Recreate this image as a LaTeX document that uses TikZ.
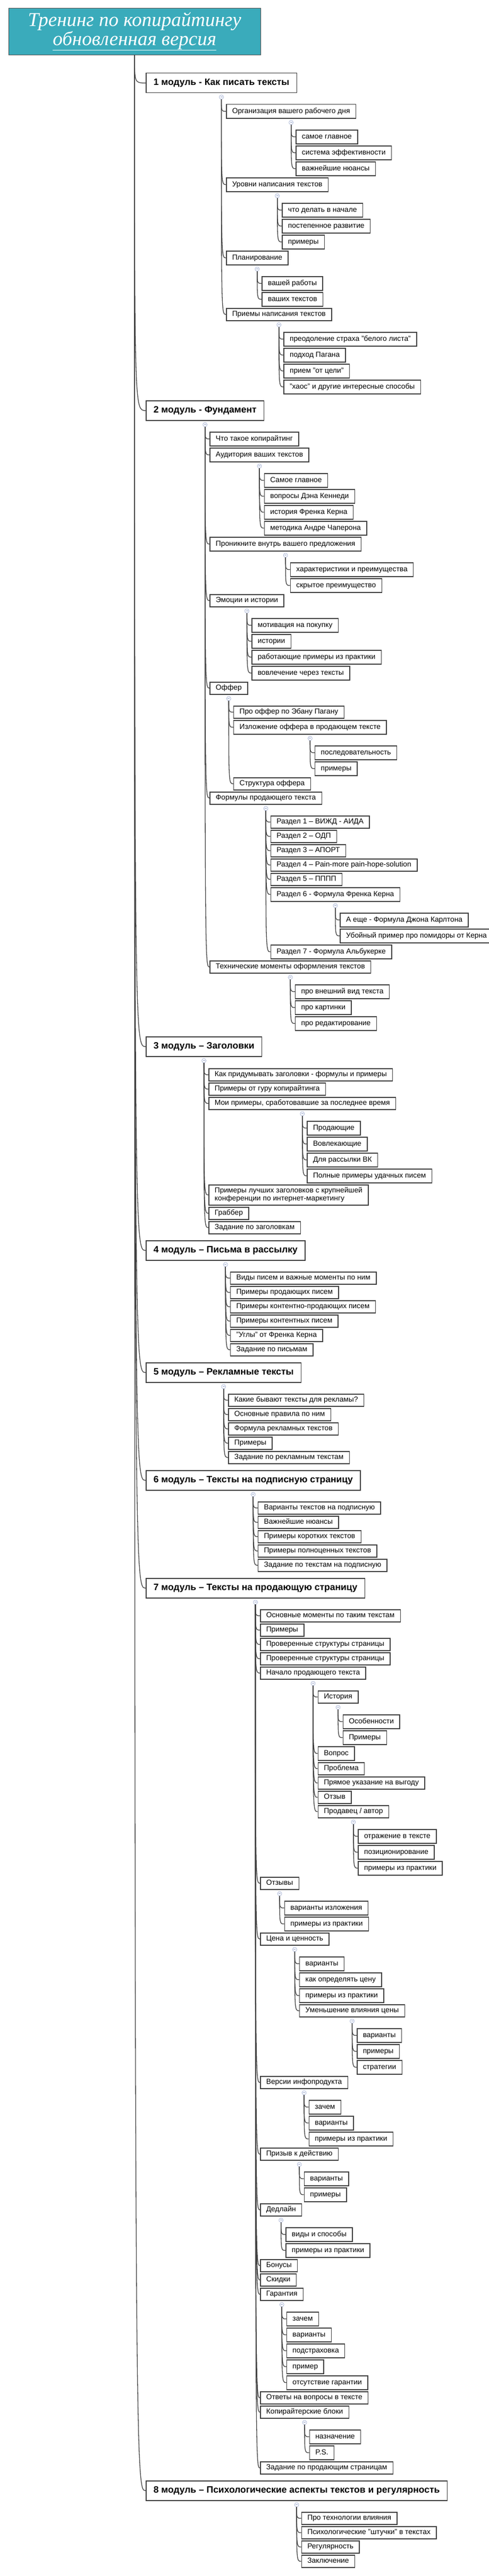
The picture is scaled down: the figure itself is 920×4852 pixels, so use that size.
\documentclass[tikz,border=0pt]{standalone}
\usepackage{fontspec}
\setmainfont{Liberation Sans}
\newfontfamily\titlefont{Liberation Serif}
\usetikzlibrary{positioning}
\definecolor{linegray}{RGB}{64,64,64}
\definecolor{titlefill}{RGB}{58,171,187}
\definecolor{knobline}{RGB}{150,165,205}

\begin{document}
\begin{tikzpicture}[x=1pt,y=-1pt,
                    titlee/.style={rectangle, anchor=north west, minimum width=474pt, minimum height=88pt, inner sep=0pt,
                      fill=titlefill, draw=black!70, text=white, align=center, font=\titlefont\itshape\fontsize{37}{34}\selectfont},
                    boxx/.style={rectangle, anchor=north west, draw=linegray, line width=1.5pt, fill=white, inner ysep=0pt},
                    modulee/.style={boxx, minimum height=37pt, inner xsep=14pt, text height=12.5pt, text depth=3.7pt,
                      font=\bfseries\fontsize{17.5}{20}\selectfont},
                    itemm/.style={boxx, xshift=8.5pt, minimum height=26pt, inner xsep=11pt, text height=10pt, text depth=3pt,
                      font=\fontsize{13.8}{16}\selectfont},
                    flatt/.style={itemm, minimum height=23pt},
                    twoo/.style={boxx, xshift=8.5pt, minimum height=38pt, inner xsep=11pt, align=left,
                      font=\fontsize{13.8}{15}\selectfont},
                    knobb/.style={circle, draw=knobline, fill=white, line width=0.6pt, minimum size=8pt, inner sep=0pt,
                      path picture={\draw[knobline, line width=0.8pt] (path picture bounding box.center) ++(-2pt,0) -- ++(4pt,0);}},
                    branch/.style={draw=linegray, line width=1.3pt,
                      to path={.. controls (\tikztostart |- \tikztotarget) .. (\tikztotarget)}}]
  \useasboundingbox (0,0) rectangle (920,4852);

  \node (title) [titlee] at (16,15) {Тренинг по копирайтингу\\\underline{обновленная версия}};

  \node (m1) [modulee] at (274,137) {1 модуль - Как писать тексты};
  \node (km1) [knobb, below=3pt of m1] {};
  \node (m1a) [itemm] at (km1 |- 0,196) {Организация вашего рабочего дня};
  \node (km1a) [knobb, below=3pt of m1a] {};
  \node (m1a1) [itemm] at (km1a |- 0,244) {самое главное};
  \node (m1a2) [itemm] at (km1a |- 0,274) {система эффективности};
  \node (m1a3) [itemm] at (km1a |- 0,304) {важнейшие нюансы};
  \node (m1b) [itemm] at (km1 |- 0,334) {Уровни написания текстов};
  \node (km1b) [knobb, below=3pt of m1b] {};
  \node (m1b1) [itemm] at (km1b |- 0,382) {что делать в начале};
  \node (m1b2) [itemm] at (km1b |- 0,412) {постепенное развитие};
  \node (m1b3) [itemm] at (km1b |- 0,442) {примеры};
  \node (m1c) [itemm] at (km1 |- 0,472) {Планирование};
  \node (km1c) [knobb, below=3pt of m1c] {};
  \node (m1c1) [itemm] at (km1c |- 0,520) {вашей работы};
  \node (m1c2) [itemm] at (km1c |- 0,550) {ваших текстов};
  \node (m1d) [flatt] at (km1 |- 0,580) {Приемы написания текстов};
  \node (km1d) [knobb, below=3pt of m1d] {};
  \node (m1d1) [itemm] at (km1d |- 0,625) {преодоление страха "белого листа"};
  \node (m1d2) [itemm] at (km1d |- 0,655) {подход Пагана};
  \node (m1d3) [itemm] at (km1d |- 0,685) {прием "от цели"};
  \node (m1d4) [itemm] at (km1d |- 0,715) {"хаос" и другие интересные способы};

  \node (m2) [modulee] at (274,754) {2 модуль - Фундамент};
  \node (km2) [knobb, below=3pt of m2] {};
  \node (m2a) [itemm] at (km2 |- 0,813) {Что такое копирайтинг};
  \node (m2b) [itemm] at (km2 |- 0,843) {Аудитория ваших текстов};
  \node (km2b) [knobb, below=3pt of m2b] {};
  \node (m2b1) [itemm] at (km2b |- 0,891) {Самое главное};
  \node (m2b2) [itemm] at (km2b |- 0,921) {вопросы Дэна Кеннеди};
  \node (m2b3) [itemm] at (km2b |- 0,951) {история Френка Керна};
  \node (m2b4) [itemm] at (km2b |- 0,981) {методика Андре Чаперона};
  \node (m2c) [itemm] at (km2 |- 0,1011) {Проникните внутрь вашего предложения};
  \node (km2c) [knobb, below=3pt of m2c] {};
  \node (m2c1) [itemm] at (km2c |- 0,1059) {характеристики и преимущества};
  \node (m2c2) [itemm] at (km2c |- 0,1089) {скрытое преимущество};
  \node (m2d) [flatt] at (km2 |- 0,1119) {Эмоции и истории};
  \node (km2d) [knobb, below=3pt of m2d] {};
  \node (m2d1) [itemm] at (km2d |- 0,1164) {мотивация на покупку};
  \node (m2d2) [itemm] at (km2d |- 0,1194) {истории};
  \node (m2d3) [itemm] at (km2d |- 0,1224) {работающие примеры из практики};
  \node (m2d4) [itemm] at (km2d |- 0,1254) {вовлечение через тексты};
  \node (m2e) [flatt] at (km2 |- 0,1284) {Оффер};
  \node (km2e) [knobb, below=3pt of m2e] {};
  \node (m2e1) [flatt] at (km2e |- 0,1329) {Про оффер по Эбану Пагану};
  \node (m2e2) [itemm] at (km2e |- 0,1356) {Изложение оффера в продающем тексте};
  \node (km2e2) [knobb, below=3pt of m2e2] {};
  \node (m2e21) [itemm] at (km2e2 |- 0,1404) {последовательность};
  \node (m2e22) [itemm] at (km2e2 |- 0,1434) {примеры};
  \node (m2e3) [flatt] at (km2e |- 0,1464) {Структура оффера};
  \node (m2f) [flatt] at (km2 |- 0,1491) {Формулы продающего текста};
  \node (km2f) [knobb, below=3pt of m2f] {};
  \node (m2f1) [flatt] at (km2f |- 0,1536) {Раздел 1 – ВИЖД - АИДА};
  \node (m2f2) [flatt] at (km2f |- 0,1563) {Раздел 2 – ОДП};
  \node (m2f3) [flatt] at (km2f |- 0,1590) {Раздел 3 – АПОРТ};
  \node (m2f4) [flatt] at (km2f |- 0,1617) {Раздел 4 – Pain-more pain-hope-solution};
  \node (m2f5) [flatt] at (km2f |- 0,1644) {Раздел 5 – ПППП};
  \node (m2f6) [itemm] at (km2f |- 0,1671) {Раздел 6 - Формула Френка Керна};
  \node (km2f6) [knobb, below=3pt of m2f6] {};
  \node (m2f61) [itemm] at (km2f6 |- 0,1719) {А еще - Формула Джона Карлтона};
  \node (m2f62) [itemm] at (km2f6 |- 0,1749) {Убойный пример про помидоры от Керна};
  \node (m2f7) [itemm] at (km2f |- 0,1779) {Раздел 7 - Формула Альбукерке};
  \node (m2g) [flatt] at (km2 |- 0,1809) {Технические моменты оформления текстов};
  \node (km2g) [knobb, below=3pt of m2g] {};
  \node (m2g1) [itemm] at (km2g |- 0,1854) {про внешний вид текста};
  \node (m2g2) [itemm] at (km2g |- 0,1884) {про картинки};
  \node (m2g3) [itemm] at (km2g |- 0,1914) {про редактирование};

  \node (m3) [modulee] at (274,1952) {3 модуль – Заголовки};
  \node (km3) [knobb, below=3pt of m3] {};
  \node (m3a) [flatt] at (km3 |- 0,2012) {Как придумывать заголовки - формулы и примеры};
  \node (m3b) [flatt] at (km3 |- 0,2039) {Примеры от гуру копирайтинга};
  \node (m3c) [flatt] at (km3 |- 0,2066) {Мои примеры, сработовавшие за последнее время};
  \node (km3c) [knobb, below=3pt of m3c] {};
  \node (m3c1) [itemm] at (km3c |- 0,2111) {Продающие};
  \node (m3c2) [itemm] at (km3c |- 0,2141) {Вовлекающие};
  \node (m3c3) [itemm] at (km3c |- 0,2171) {Для рассылки ВК};
  \node (m3c4) [itemm] at (km3c |- 0,2201) {Полные примеры удачных писем};
  \node (m3d) [twoo] at (km3 |- 0,2231) {Примеры лучших заголовков с крупнейшей\\конференции по интернет-маркетингу};
  \node (m3e) [flatt] at (km3 |- 0,2273) {Граббер};
  \node (m3f) [flatt] at (km3 |- 0,2300) {Задание по заголовкам};

  \node (m4) [modulee] at (274,2336) {4 модуль – Письма в рассылку};
  \node (km4) [knobb, below=3pt of m4] {};
  \node (m4a) [flatt] at (km4 |- 0,2395) {Виды писем и важные моменты по ним};
  \node (m4b) [flatt] at (km4 |- 0,2422) {Примеры продающих писем};
  \node (m4c) [flatt] at (km4 |- 0,2449) {Примеры контентно-продающих писем};
  \node (m4d) [flatt] at (km4 |- 0,2476) {Примеры контентных писем};
  \node (m4e) [flatt] at (km4 |- 0,2503) {"Углы" от Френка Керна};
  \node (m4f) [flatt] at (km4 |- 0,2530) {Задание по письмам};

  \node (m5) [modulee] at (274,2566) {5 модуль – Рекламные тексты};
  \node (km5) [knobb, below=3pt of m5] {};
  \node (m5a) [flatt] at (km5 |- 0,2625) {Какие бывают тексты для рекламы?};
  \node (m5b) [flatt] at (km5 |- 0,2652) {Основные правила по ним};
  \node (m5c) [flatt] at (km5 |- 0,2679) {Формула рекламных текстов};
  \node (m5d) [flatt] at (km5 |- 0,2706) {Примеры};
  \node (m5e) [flatt] at (km5 |- 0,2733) {Задание по рекламным текстам};

  \node (m6) [modulee] at (274,2769) {6 модуль – Тексты на подписную страницу};
  \node (km6) [knobb, below=3pt of m6] {};
  \node (m6a) [flatt] at (km6 |- 0,2828) {Варианты текстов на подписную};
  \node (m6b) [flatt] at (km6 |- 0,2855) {Важнейшие нюансы};
  \node (m6c) [flatt] at (km6 |- 0,2882) {Примеры коротких текстов};
  \node (m6d) [flatt] at (km6 |- 0,2909) {Примеры полноценных текстов};
  \node (m6e) [flatt] at (km6 |- 0,2936) {Задание по текстам на подписную};

  \node (m7) [modulee] at (274,2972) {7 модуль – Тексты на продающую страницу};
  \node (km7) [knobb, below=3pt of m7] {};
  \node (m7a) [flatt] at (km7 |- 0,3031) {Основные моменты по таким текстам};
  \node (m7b) [flatt] at (km7 |- 0,3058) {Примеры};
  \node (m7c) [flatt] at (km7 |- 0,3085) {Проверенные структуры страницы};
  \node (m7d) [flatt] at (km7 |- 0,3112) {Проверенные структуры страницы};
  \node (m7e) [flatt] at (km7 |- 0,3139) {Начало продающего текста};
  \node (km7e) [knobb, below=3pt of m7e] {};
  \node (m7e1) [flatt] at (km7e |- 0,3184) {История};
  \node (km7e1) [knobb, below=3pt of m7e1] {};
  \node (m7e11) [itemm] at (km7e1 |- 0,3229) {Особенности};
  \node (m7e12) [itemm] at (km7e1 |- 0,3259) {Примеры};
  \node (m7e2) [itemm] at (km7e |- 0,3289) {Вопрос};
  \node (m7e3) [flatt] at (km7e |- 0,3319) {Проблема};
  \node (m7e4) [flatt] at (km7e |- 0,3346) {Прямое указание на выгоду};
  \node (m7e5) [flatt] at (km7e |- 0,3373) {Отзыв};
  \node (m7e6) [flatt] at (km7e |- 0,3400) {Продавец / автор};
  \node (km7e6) [knobb, below=3pt of m7e6] {};
  \node (m7e61) [itemm] at (km7e6 |- 0,3445) {отражение в тексте};
  \node (m7e62) [itemm] at (km7e6 |- 0,3475) {позиционирование};
  \node (m7e63) [itemm] at (km7e6 |- 0,3505) {примеры из практики};
  \node (m7f) [flatt] at (km7 |- 0,3535) {Отзывы};
  \node (km7f) [knobb, below=3pt of m7f] {};
  \node (m7f1) [itemm] at (km7f |- 0,3580) {варианты изложения};
  \node (m7f2) [itemm] at (km7f |- 0,3610) {примеры из практики};
  \node (m7g) [flatt] at (km7 |- 0,3640) {Цена и ценность};
  \node (km7g) [knobb, below=3pt of m7g] {};
  \node (m7g1) [itemm] at (km7g |- 0,3685) {варианты};
  \node (m7g2) [itemm] at (km7g |- 0,3715) {как определять цену};
  \node (m7g3) [itemm] at (km7g |- 0,3745) {примеры из практики};
  \node (m7g4) [flatt] at (km7g |- 0,3775) {Уменьшение влияния цены};
  \node (km7g4) [knobb, below=3pt of m7g4] {};
  \node (m7g41) [itemm] at (km7g4 |- 0,3820) {варианты};
  \node (m7g42) [itemm] at (km7g4 |- 0,3850) {примеры};
  \node (m7g43) [itemm] at (km7g4 |- 0,3880) {стратегии};
  \node (m7h) [flatt] at (km7 |- 0,3910) {Версии инфопродукта};
  \node (km7h) [knobb, below=3pt of m7h] {};
  \node (m7h1) [itemm] at (km7h |- 0,3955) {зачем};
  \node (m7h2) [itemm] at (km7h |- 0,3985) {варианты};
  \node (m7h3) [itemm] at (km7h |- 0,4015) {примеры из практики};
  \node (m7i) [flatt] at (km7 |- 0,4045) {Призыв к действию};
  \node (km7i) [knobb, below=3pt of m7i] {};
  \node (m7i1) [itemm] at (km7i |- 0,4090) {варианты};
  \node (m7i2) [itemm] at (km7i |- 0,4120) {примеры};
  \node (m7j) [flatt] at (km7 |- 0,4150) {Дедлайн};
  \node (km7j) [knobb, below=3pt of m7j] {};
  \node (m7j1) [itemm] at (km7j |- 0,4195) {виды и способы};
  \node (m7j2) [itemm] at (km7j |- 0,4225) {примеры из практики};
  \node (m7k) [flatt] at (km7 |- 0,4255) {Бонусы};
  \node (m7l) [flatt] at (km7 |- 0,4282) {Скидки};
  \node (m7m) [flatt] at (km7 |- 0,4309) {Гарантия};
  \node (km7m) [knobb, below=3pt of m7m] {};
  \node (m7m1) [itemm] at (km7m |- 0,4354) {зачем};
  \node (m7m2) [itemm] at (km7m |- 0,4384) {варианты};
  \node (m7m3) [itemm] at (km7m |- 0,4414) {подстраховка};
  \node (m7m4) [itemm] at (km7m |- 0,4444) {пример};
  \node (m7m5) [itemm] at (km7m |- 0,4474) {отсутствие гарантии};
  \node (m7n) [flatt] at (km7 |- 0,4504) {Ответы на вопросы в тексте};
  \node (m7o) [flatt] at (km7 |- 0,4531) {Копирайтерские блоки};
  \node (km7o) [knobb, below=3pt of m7o] {};
  \node (m7o1) [itemm] at (km7o |- 0,4576) {назначение};
  \node (m7o2) [itemm] at (km7o |- 0,4606) {P.S.};
  \node (m7p) [flatt] at (km7 |- 0,4636) {Задание по продающим страницам};

  \node (m8) [modulee] at (274,4672) {8 модуль – Психологические аспекты текстов и регулярность};
  \node (km8) [knobb, below=3pt of m8] {};
  \node (m8a) [flatt] at (km8 |- 0,4731) {Про технологии влияния};
  \node (m8b) [flatt] at (km8 |- 0,4758) {Психологические "штучки" в текстах};
  \node (m8c) [flatt] at (km8 |- 0,4785) {Регулярность};
  \node (m8d) [flatt] at (km8 |- 0,4812) {Заключение};

  \path[branch]
    (title.south)
        edge (m1.west) edge (m2.west) edge (m3.west) edge (m4.west)
        edge (m5.west) edge (m6.west) edge (m7.west) edge (m8.west)
    (km1.south)
        edge (m1a.west) edge (m1b.west) edge (m1c.west) edge (m1d.west)
    (km1a.south)
        edge (m1a1.west) edge (m1a2.west) edge (m1a3.west)
    (km1b.south)
        edge (m1b1.west) edge (m1b2.west) edge (m1b3.west)
    (km1c.south)
        edge (m1c1.west) edge (m1c2.west)
    (km1d.south)
        edge (m1d1.west) edge (m1d2.west) edge (m1d3.west) edge (m1d4.west)
    (km2.south)
        edge (m2a.west) edge (m2b.west) edge (m2c.west) edge (m2d.west)
        edge (m2e.west) edge (m2f.west) edge (m2g.west)
    (km2b.south)
        edge (m2b1.west) edge (m2b2.west) edge (m2b3.west) edge (m2b4.west)
    (km2c.south)
        edge (m2c1.west) edge (m2c2.west)
    (km2d.south)
        edge (m2d1.west) edge (m2d2.west) edge (m2d3.west) edge (m2d4.west)
    (km2e.south)
        edge (m2e1.west) edge (m2e2.west) edge (m2e3.west)
    (km2e2.south)
        edge (m2e21.west) edge (m2e22.west)
    (km2f.south)
        edge (m2f1.west) edge (m2f2.west) edge (m2f3.west) edge (m2f4.west)
        edge (m2f5.west) edge (m2f6.west) edge (m2f7.west)
    (km2f6.south)
        edge (m2f61.west) edge (m2f62.west)
    (km2g.south)
        edge (m2g1.west) edge (m2g2.west) edge (m2g3.west)
    (km3.south)
        edge (m3a.west) edge (m3b.west) edge (m3c.west) edge (m3d.west)
        edge (m3e.west) edge (m3f.west)
    (km3c.south)
        edge (m3c1.west) edge (m3c2.west) edge (m3c3.west) edge (m3c4.west)
    (km4.south)
        edge (m4a.west) edge (m4b.west) edge (m4c.west) edge (m4d.west)
        edge (m4e.west) edge (m4f.west)
    (km5.south)
        edge (m5a.west) edge (m5b.west) edge (m5c.west) edge (m5d.west)
        edge (m5e.west)
    (km6.south)
        edge (m6a.west) edge (m6b.west) edge (m6c.west) edge (m6d.west)
        edge (m6e.west)
    (km7.south)
        edge (m7a.west) edge (m7b.west) edge (m7c.west) edge (m7d.west)
        edge (m7e.west) edge (m7f.west) edge (m7g.west) edge (m7h.west)
        edge (m7i.west) edge (m7j.west) edge (m7k.west) edge (m7l.west)
        edge (m7m.west) edge (m7n.west) edge (m7o.west) edge (m7p.west)
    (km7e.south)
        edge (m7e1.west) edge (m7e2.west) edge (m7e3.west) edge (m7e4.west)
        edge (m7e5.west) edge (m7e6.west)
    (km7e1.south)
        edge (m7e11.west) edge (m7e12.west)
    (km7e6.south)
        edge (m7e61.west) edge (m7e62.west) edge (m7e63.west)
    (km7f.south)
        edge (m7f1.west) edge (m7f2.west)
    (km7g.south)
        edge (m7g1.west) edge (m7g2.west) edge (m7g3.west) edge (m7g4.west)
    (km7g4.south)
        edge (m7g41.west) edge (m7g42.west) edge (m7g43.west)
    (km7h.south)
        edge (m7h1.west) edge (m7h2.west) edge (m7h3.west)
    (km7i.south)
        edge (m7i1.west) edge (m7i2.west)
    (km7j.south)
        edge (m7j1.west) edge (m7j2.west)
    (km7m.south)
        edge (m7m1.west) edge (m7m2.west) edge (m7m3.west) edge (m7m4.west)
        edge (m7m5.west)
    (km7o.south)
        edge (m7o1.west) edge (m7o2.west)
    (km8.south)
        edge (m8a.west) edge (m8b.west) edge (m8c.west) edge (m8d.west)
    ;
\end{tikzpicture}
\end{document}
